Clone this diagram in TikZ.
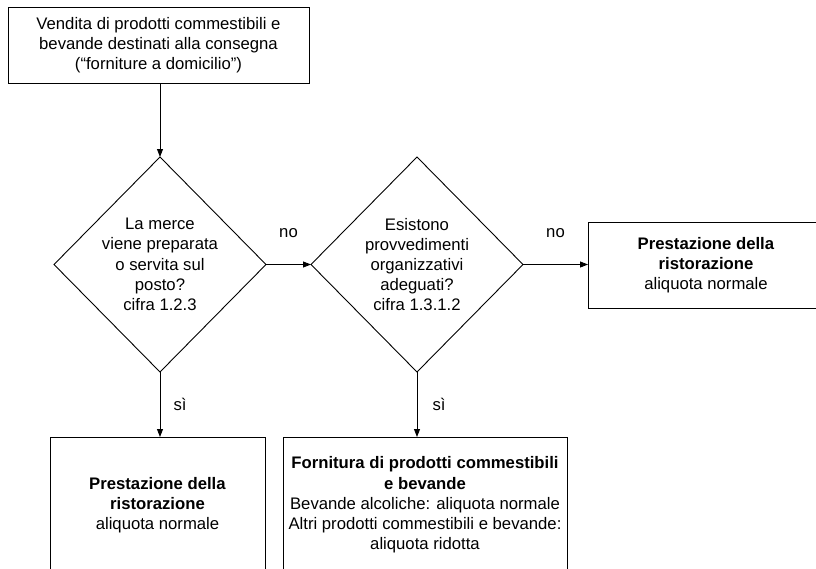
\documentclass[tikz,border=0pt]{standalone}
\usepackage{fontspec}
\setmainfont{Liberation Sans}
\usetikzlibrary{arrows.meta,shapes.geometric}

\begin{document}
\begin{tikzpicture}[x=1pt, y=-1pt, line width=0.9pt, ->, >={Triangle[length=8pt,width=6pt]},
	every node/.style={font=\fontsize{16.7}{20.2}\selectfont, align=center, inner sep=0pt, outer sep=0pt},
	box/.style={draw, rectangle, -},
	question/.style={draw, diamond, -, minimum width=212pt, minimum height=215pt}]
	\useasboundingbox (0,0) rectangle (816,568);

	\node[box, minimum width=301pt, minimum height=76pt] (V) at (158.5,45) {Vendita di prodotti commestibili e\\bevande destinati alla consegna\\(“forniture a domicilio”)};
	\node[question] (Q1) at (160,264.5) {La merce\\viene preparata\\o servita sul\\posto?\\cifra 1.2.3};
	\node[question] (Q2) at (417,264.5) {Esistono\\provvedimenti\\organizzativi\\adeguati?\\cifra 1.3.1.2};
	\node[box, minimum width=236pt, minimum height=86pt] (R1) at (706,265) {\textbf{Prestazione della}\\\textbf{ristorazione}\\aliquota normale};
	\node[box, minimum width=215pt, minimum height=136pt] (R2) at (157.5,505) {\textbf{Prestazione della}\\\textbf{ristorazione}\\aliquota normale};
	\node[box, minimum width=284pt, minimum height=136pt] (F) at (425,505) {\textbf{Fornitura di prodotti commestibili}\\\textbf{e bevande}\\Bevande alcoliche: aliquota normale\\Altri prodotti commestibili e bevande:\\aliquota ridotta};

	\draw (V.south -| Q1.north) -- (Q1.north);
	\draw (Q1.east) -- node[yshift=31pt] {no} (Q2.west);
	\draw (Q2.east) -- node[yshift=31pt] {no} (Q2.east -| R1.west);
	\draw (Q1.south) -- node[xshift=20pt] {sì} (Q1.south |- R2.north);
	\draw (Q2.south) -- node[xshift=22pt] {sì} (Q2.south |- F.north);
\end{tikzpicture}
\end{document}
